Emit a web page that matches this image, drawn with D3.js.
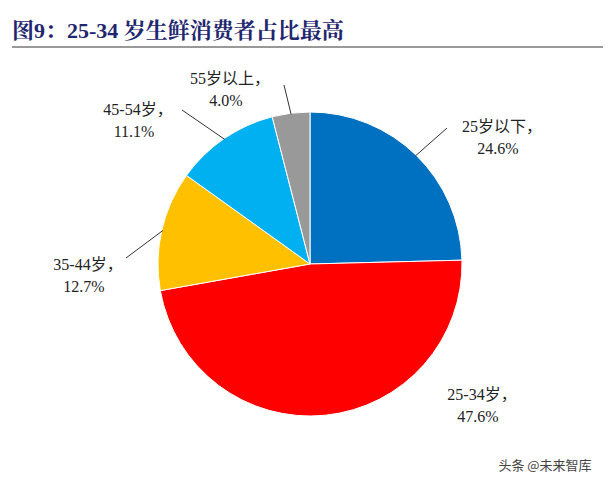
<!DOCTYPE html><html><head><meta charset="utf-8"><script src="https://cdn.jsdelivr.net/npm/d3@7"></script>
<style>body{margin:0;background:#fff}</style></head><body><svg id="c" width="615" height="486"></svg>
<script>
const categories=["25岁以下","25-34岁","35-44岁","45-54岁","55岁以上"];
const values=[24.6,47.6,12.7,11.1,4.0];
const colors=["#0070C0","#FF0000","#FFC000","#00B0F0","#999999"];
const svg=d3.select("#c");
svg.append("text").attr("x",12).attr("y",38).attr("fill","#1F2770").attr("font-size",22).attr("font-weight","bold")
 .attr("font-family","'Liberation Serif','Noto Serif CJK SC','Noto Sans CJK SC',serif").text("图9：25-34 岁生鲜消费者占比最高");
svg.append("line").attr("x1",12).attr("x2",603).attr("y1",47).attr("y2",47).attr("stroke","#777").attr("stroke-width",1.5);
const cx=310,cy=264,r=152;
const pie=d3.pie().sort(null).value(d=>d)(values);
const arc=d3.arc().innerRadius(0).outerRadius(r);
const g=svg.append("g").attr("transform",`translate(${cx},${cy})`);
g.selectAll("path").data(pie).enter().append("path").attr("d",arc).attr("fill",(d,i)=>colors[i]).attr("stroke","#fff").attr("stroke-width",1);
// label placement (relative to pie centre)
const labPos=[[192,-128],[172,140],[-222,10],[-172,-145],[-80,-176]];
const leadEnd=[[137,-136],null,[-184,-6],[-128,-154],[-26,-179]];
const pct=v=>v.toFixed(1)+"%";
pie.forEach((d,i)=>{
  const a=(d.startAngle+d.endAngle)/2;
  const sx=Math.sin(a),sy=-Math.cos(a);
  if(leadEnd[i]){
    g.append("line").attr("x1",sx*(r-1)).attr("y1",sy*(r-1)).attr("x2",leadEnd[i][0]).attr("y2",leadEnd[i][1]).attr("stroke","#333").attr("stroke-width",1);
  }
  const [lx,ly]=labPos[i];
  const t=g.append("text").attr("text-anchor","middle").attr("font-size",16).attr("fill","#222")
   .attr("font-family","'Liberation Serif','Noto Sans CJK SC',serif");
  t.append("tspan").attr("x",lx).attr("y",ly-4).text(categories[i]+"，");
  t.append("tspan").attr("x",lx-4).attr("y",ly+18).text(pct(values[i]));
});
svg.append("text").attr("x",545).attr("y",470).attr("text-anchor","middle").attr("font-size",13).attr("fill","#444")
 .attr("font-family","'Noto Sans CJK SC',sans-serif").text("头条 @未来智库");
</script></body></html>
